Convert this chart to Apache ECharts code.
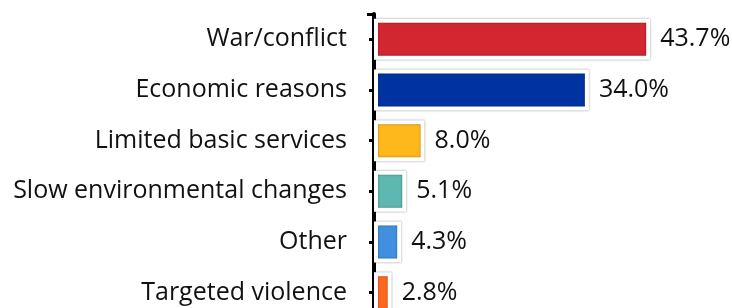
<!DOCTYPE html>
<html>
<head>
<meta charset="utf-8">
<script src="https://cdn.jsdelivr.net/npm/echarts@6/dist/echarts.min.js"></script>
<style>
  html, body { margin: 0; padding: 0; background: #ffffff; }
  #chart { width: 732px; height: 308px; }
</style>
</head>
<body>
<div id="chart"></div>
<script>
const categories = [
  'War/conflict',
  'Economic reasons',
  'Limited basic services',
  'Slow environmental changes',
  'Other',
  'Targeted violence'
];
const values = [43.7, 34.0, 8.0, 5.1, 4.3, 2.8];
const barColors = ['#D22630', '#0033A1', '#FFB81C', '#5EB7B0', '#418FDE', '#FF671F'];

const FONT = '"Open Sans", "DejaVu Sans", sans-serif';

const chart = echarts.init(document.getElementById('chart'), null, { renderer: 'canvas' });

chart.setOption({
  animation: false,
  backgroundColor: '#ffffff',
  grid: { left: 374, right: 42, top: 14, height: 304, containLabel: false, outerBoundsMode: 'none' },
  xAxis: {
    type: 'value', min: 0, max: 50, show: false
  },
  yAxis: [
    {
      type: 'category',
      data: categories,
      inverse: true,
      axisLine: { show: true, lineStyle: { color: '#000', width: 4 } },
      axisTick: { show: true, alignWithLabel: true, length: 5, lineStyle: { color: '#000', width: 3 } },
      axisLabel: { margin: 27, color: '#111', fontFamily: FONT, fontSize: 25 },
      splitLine: { show: false }
    },
    {
      type: 'category',
      data: categories,
      inverse: true,
      position: 'left',
      axisLine: { show: false },
      axisTick: {
        show: true, alignWithLabel: false, length: 7,
        interval: function (index) { return index === 0; },
        lineStyle: { color: '#000', width: 3 }
      },
      axisLabel: { show: false },
      splitLine: { show: false }
    }
  ],
  series: [
    {
      type: 'bar',
      yAxisIndex: 0,
      barWidth: 41,
      data: values.map((v, i) => ({ value: v, itemStyle: { color: barColors[i] } })),
      itemStyle: {
        borderColor: '#ffffff',
        borderWidth: 4,
        shadowColor: 'rgba(0,0,0,0.45)',
        shadowBlur: 2
      },
      label: {
        show: true,
        position: 'right',
        distance: 10,
        color: '#111',
        fontFamily: FONT,
        fontSize: 25,
        formatter: p => p.value.toFixed(1) + '%'
      },
      z: 1
    }
  ]
});
</script>
</body>
</html>
